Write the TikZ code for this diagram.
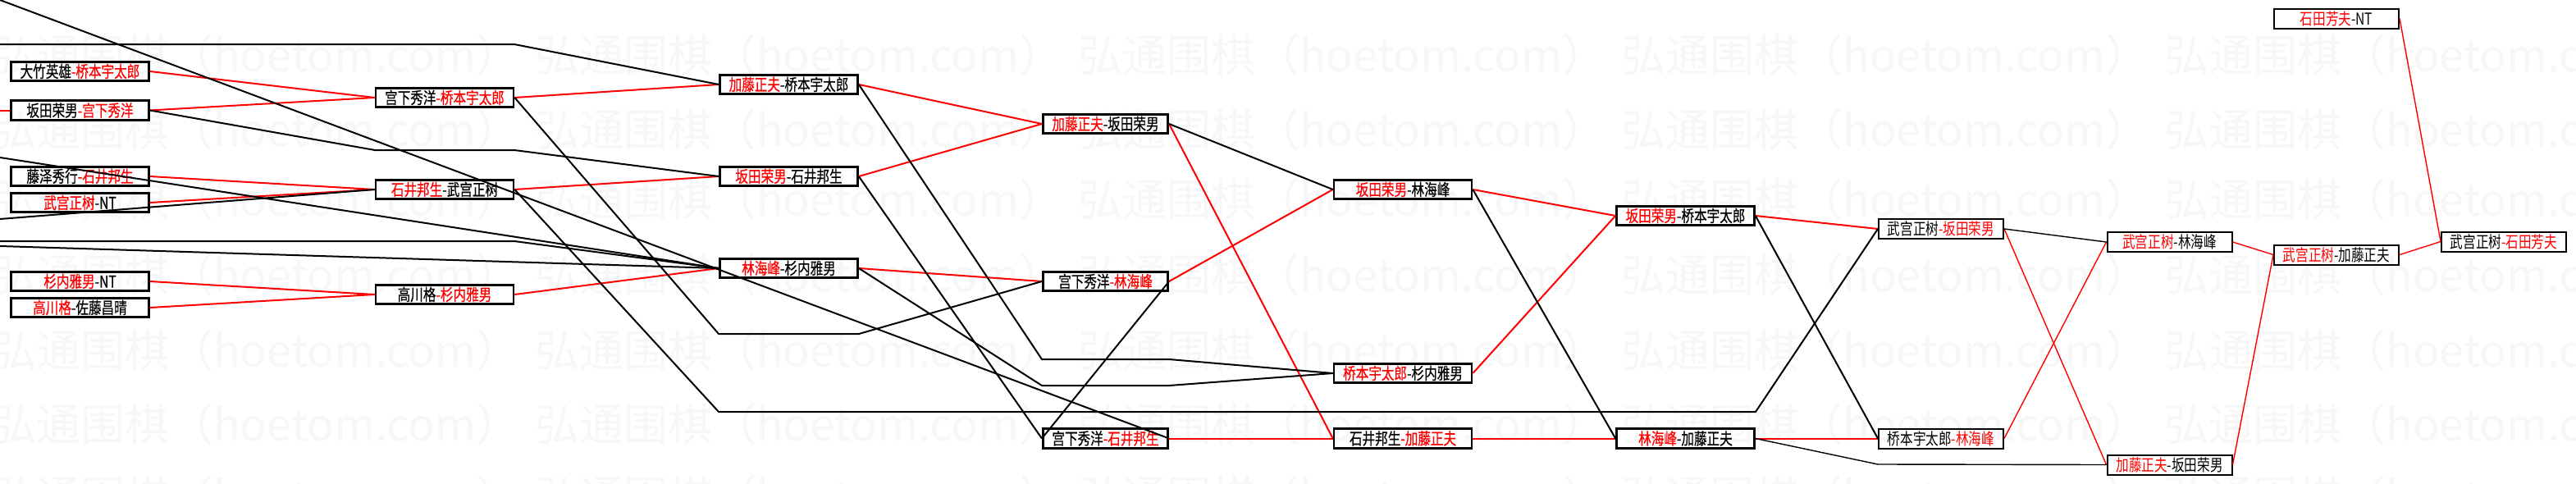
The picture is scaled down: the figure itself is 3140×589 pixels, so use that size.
\documentclass[tikz,border=0pt]{standalone}
\usepackage{fontspec}
\setmainfont{Noto Sans CJK SC}[FakeStretch=0.78]
\newfontfamily\boxfont{Noto Sans CJK SC}[FakeStretch=0.78, FakeBold=0.5]
\newfontfamily\wmfont{Noto Sans CJK SC}
\newcommand{\winner}[1]{\textcolor{red}{#1}}

\begin{document}
\begin{tikzpicture}[x=1pt, y=-1pt,
    game/.style={draw, line width=2.6pt, minimum width=168pt, minimum height=23.5pt, inner sep=0pt, font=\boxfont\fontsize{20pt}{20pt}\selectfont},
    narrow/.style={minimum width=152.5pt},
    late/.style={line width=2pt, minimum width=152pt, minimum height=24pt, font=\fontsize{20pt}{20pt}\selectfont},
    winline/.style={red, line width=2pt},
    loseline/.style={black, line width=2pt},
    thinline/.style={line width=1.4pt},
    wmark/.style={text=black!3, inner sep=0pt, anchor=west, font=\wmfont\fontsize{54pt}{54pt}\selectfont}]
    \useasboundingbox (0,0) rectangle (3140,589);
    \fill[white] (0,0) rectangle (3140,589);

    \foreach \wy [count=\j] in {67,158,243,335,427,517,605}
        \foreach \wx [count=\i] in {-10,652,1314,1976,2638}
            \node[wmark] (wm\i\j) at (\wx,\wy) {弘通围棋（hoetom.com）};

    % first round
    \node[game] (A1) at (97.5,87) {大竹英雄\winner{-桥本宇太郎}};
    \node[game] (A2) at (97.5,134.5) {坂田荣男\winner{-宫下秀洋}};
    \node[game] (A3) at (97.5,215) {藤泽秀行\winner{-石井邦生}};
    \node[game] (A4) at (97.5,247) {\winner{武宫正树}-NT};
    \node[game] (A5) at (97.5,343) {\winner{杉内雅男}-NT};
    \node[game] (A6) at (97.5,375) {\winner{高川格}-佐藤昌晴};

    \node[game] (B1) at (542,119) {宫下秀洋\winner{-桥本宇太郎}};
    \node[game] (B2) at (542,231) {\winner{石井邦生}-武宫正树};
    \node[game] (B3) at (542,359) {高川格\winner{-杉内雅男}};

    \node[game] (C1) at (961.5,103) {\winner{加藤正夫}-桥本宇太郎};
    \node[game] (C2) at (961.5,215) {\winner{坂田荣男}-石井邦生};
    \node[game] (C3) at (961.5,327) {\winner{林海峰}-杉内雅男};

    \node[game, narrow] (D1) at (1347.5,151) {\winner{加藤正夫}-坂田荣男};
    \node[game, narrow] (D2) at (1347.5,343) {宫下秀洋\winner{-林海峰}};
    \node[game, narrow] (D3) at (1347.5,534.5) {宫下秀洋\winner{-石井邦生}};

    \node[game] (E1) at (1710,231) {\winner{坂田荣男}-林海峰};
    \node[game] (E2) at (1710,455) {\winner{桥本宇太郎}-杉内雅男};
    \node[game] (E3) at (1710,534.5) {石井邦生\winner{-加藤正夫}};

    \node[game] (F1) at (2054.5,263) {\winner{坂田荣男}-桥本宇太郎};
    \node[game] (F2) at (2054.5,534.5) {\winner{林海峰}-加藤正夫};

    \node[game, late] (G1) at (2366,279) {武宫正树\winner{-坂田荣男}};
    \node[game, late] (G2) at (2366,534.5) {桥本宇太郎\winner{-林海峰}};

    \node[game, late] (H1) at (2644.5,295) {\winner{武宫正树}-林海峰};
    \node[game, late] (H2) at (2644.5,566.5) {\winner{加藤正夫}-坂田荣男};

    \node[game, late] (I0) at (2848,22.5) {\winner{石田芳夫}-NT};
    \node[game, late] (I1) at (2848,310.5) {\winner{武宫正树}-加藤正夫};

    \node[game, late] (J1) at (3052,294.5) {武宫正树\winner{-石田芳夫}};

    % entries from the left
    \coordinate (in1) at (0,0);
    \coordinate (in2) at (0,54);
    \coordinate (in2b) at (627,54);
    \coordinate (in3) at (0,134.5);
    \coordinate (in4) at (0,192);
    \coordinate (in5) at (0,267);
    \coordinate (in6) at (0,294);
    \coordinate (in6b) at (627,294);
    \coordinate (in7) at (0,300);

    % bends
    \coordinate (a2l) at (457,183);
    \coordinate (a2r) at (627,183);
    \coordinate (b1l) at (876,407);
    \coordinate (b1r) at (1047,407);
    \coordinate (b2l) at (876,502);
    \coordinate (b2r) at (2140,502);
    \coordinate (c1l) at (1270,438);
    \coordinate (c1r) at (1425,438);
    \coordinate (c3l) at (1270,470);
    \coordinate (c3r) at (1425,470);
    \coordinate (f2l) at (2289,566);

    \draw[winline] (in3) -- (A2.west);
    \draw[winline] (A1.east) -- (B1.west);
    \draw[winline] (A2.east) -- (B1.west);
    \draw[winline] (A3.east) -- (B2.west);
    \draw[winline] (A4.east) -- (B2.west);
    \draw[winline] (A5.east) -- (B3.west);
    \draw[winline] (A6.east) -- (B3.west);
    \draw[winline] (B1.east) -- (C1.west);
    \draw[winline] (B2.east) -- (C2.west);
    \draw[winline] (B3.east) -- (C3.west);
    \draw[winline] (C1.east) -- (D1.west);
    \draw[winline] (C2.east) -- (D1.west);
    \draw[winline] (C3.east) -- (D2.west);
    \draw[winline] (D1.east) -- (E3.west);
    \draw[winline] (D2.east) -- (E1.west);
    \draw[winline] (D3.east) -- (E3.west);
    \draw[winline] (E1.east) -- (F1.west);
    \draw[winline] (E2.east) -- (F1.west);
    \draw[winline] (E3.east) -- (F2.west);
    \draw[winline] (F1.east) -- (G1.west);
    \draw[winline] (F2.east) -- (G2.west);
    \draw[winline, thinline] (G1.east) -- (H2.west);
    \draw[winline, thinline] (G2.east) -- (H1.west);
    \draw[winline, thinline] (H1.east) -- (I1.west);
    \draw[winline, thinline] (H2.east) -- (I1.west);
    \draw[winline, thinline] (I1.east) -- (J1.west);
    \draw[winline, thinline] (I0.east) -- (J1.west);

    \draw[loseline] (in1) -- (D3.east);
    \draw[loseline] (in2) -- (in2b) -- (C1.west);
    \draw[loseline] (in4) -- (C3.west);
    \draw[loseline] (in5) -- (B2.west);
    \draw[loseline] (in6) -- (in6b) -- (C3.west);
    \draw[loseline] (in7) -- (C3.west);
    \draw[loseline] (A2.east) -- (a2l) -- (a2r) -- (C2.west);
    \draw[loseline] (B1.east) -- (b1l) -- (b1r) -- (D2.west);
    \draw[loseline] (B2.east) -- (b2l) -- (b2r) -- (G1.west);
    \draw[loseline] (C1.east) -- (c1l) -- (c1r) -- (E2.west);
    \draw[loseline] (C2.east) -- (D3.west);
    \draw[loseline] (C3.east) -- (c3l) -- (c3r) -- (E2.west);
    \draw[loseline] (D2.east) -- (D3.west);
    \draw[loseline] (D1.east) -- (E1.west);
    \draw[loseline] (E1.east) -- (F2.west);
    \draw[loseline] (F1.east) -- (G2.west);
    \draw[loseline, thinline] (F2.east) -- (f2l) -- (H2.west);
    \draw[loseline, thinline] (G1.east) -- (H1.west);
\end{tikzpicture}
\end{document}
